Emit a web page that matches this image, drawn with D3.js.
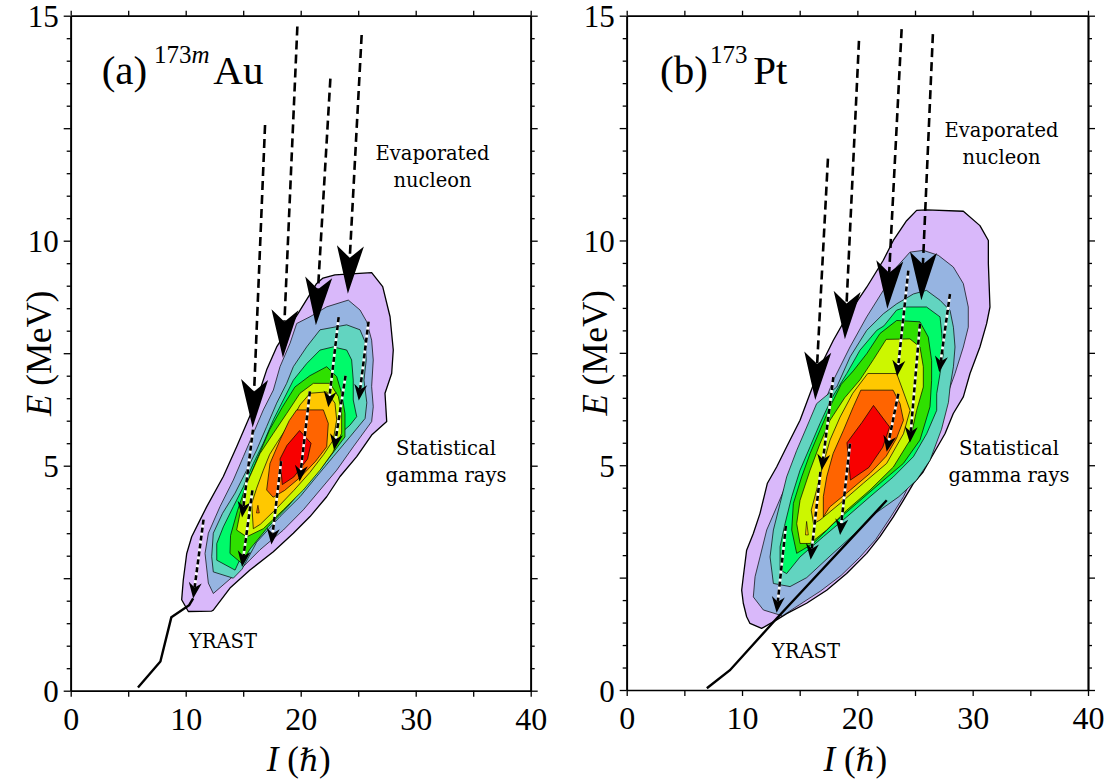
<!DOCTYPE html>
<html>
<head>
<meta charset="utf-8">
<script src="https://cdn.jsdelivr.net/npm/d3@7"></script>
<style>
body { margin: 0; background: #fff; }
svg text { font-family: "Liberation Serif", "DejaVu Serif", serif; fill: #000; }
svg text.note { font-family: "DejaVu Serif", serif; }
</style>
</head>
<body>
<svg id="chart" width="1107" height="780"></svg>
<script>
// ---- data: I (hbar) , E (MeV) ----

var xTickLabels = [0, 10, 20, 30, 40];
var xTickMarks = [0, 5, 10, 15, 20, 25, 30, 35, 40];
var yTickLabels = [0, 5, 10, 15];
var yMajorMarks = [0, 2.5, 5, 7.5, 10, 12.5, 15];
var yMinorMarks = [0.5, 1, 1.5, 2, 3, 3.5, 4, 4.5, 5.5, 6, 6.5, 7, 8, 8.5, 9, 9.5, 10.5, 11, 11.5, 12, 13, 13.5, 14, 14.5];

// contour levels, outer -> inner
var levelColors = ["#d9b8fa", "#96b4e1", "#62d4c0", "#00fa6a", "#2fe000", "#ccf700", "#ffc800", "#ff6400", "#f80000"];

// (a) 173mAu
var auPurple = [[21.39,9.05],[21.94,9.17],[22.98,9.24],[26.17,9.29],[27.13,8.98],[27.77,8.31],[28.05,7.57],[27.91,7.05],[27.33,6.61],[27.48,5.98],[26.17,5.68],[24.87,5.2],[23.42,4.76],[22.26,4.31],[20.81,3.87],[19.36,3.5],[17.62,3.09],[15.59,2.68],[13.85,2.28],[12.4,1.79],[12.26,1.77],[10.23,1.76],[9.65,2.02],[9.79,2.46],[10.09,3.05],[10.52,3.42],[11.24,3.79],[11.83,4.09],[13.27,4.76],[14.43,5.42],[15.3,5.94],[16.17,6.46],[17.04,7.13],[17.91,7.64],[19.79,8.39]];
var auBlue = [[22.26,8.53],[24.14,8.68],[25.16,8.46],[25.74,8.2],[26.17,7.79],[26.31,7.35],[26.17,6.76],[26.31,6.31],[26.17,5.98],[24.57,5.42],[23.13,4.9],[21.68,4.46],[20.23,4.02],[18.49,3.57],[16.46,3.13],[14.43,2.61],[12.4,2.16],[11.97,2.39],[11.68,3.05],[11.97,3.5],[12.98,4.09],[14.14,4.68],[15.01,5.2],[15.88,5.72],[16.75,6.24],[17.62,6.68],[18.2,7.2],[19.07,7.72],[19.65,8.16],[20.81,8.31]];
var auTeal = [[21.68,8.02],[24.0,8.13],[25.16,8.02],[25.6,7.75],[25.7,7.35],[25.5,6.9],[25.75,6.4],[25.6,6.05],[24.28,5.64],[22.83,5.2],[21.39,4.76],[19.94,4.31],[18.2,3.87],[16.17,3.3],[14.9,2.7],[14.14,2.5],[12.4,2.64],[12.26,2.98],[12.4,3.5],[13.2,3.94],[14.29,4.39],[15.3,4.9],[16.17,5.35],[17.04,5.87],[17.91,6.39],[18.78,6.83],[19.36,7.2],[20.52,7.64]];
var auAqua = [[21.68,7.57],[22.83,7.64],[24.0,7.57],[24.43,7.35],[24.57,6.9],[24.57,6.46],[24.87,6.09],[24.28,5.9],[23.13,5.64],[21.68,5.2],[20.23,4.83],[18.78,4.39],[17.04,3.94],[15.5,3.35],[14.29,2.68],[12.7,2.9],[12.7,3.27],[13.27,3.64],[14.14,4.09],[15.01,4.53],[15.88,5.05],[16.75,5.5],[17.62,6.02],[18.49,6.46],[19.36,6.9],[20.52,7.27]];
var auGreen = [[20.8,7.0],[22.26,7.2],[23.13,6.98],[23.56,6.61],[23.85,6.16],[23.85,5.64],[23.0,5.35],[21.8,4.95],[20.4,4.55],[18.9,4.1],[17.2,3.65],[15.6,3.15],[14.87,2.83],[13.85,3.05],[13.9,3.45],[14.5,4.0],[15.3,4.6],[16.3,5.2],[17.3,5.8],[18.4,6.3],[19.5,6.75]];
var auLime = [[21.1,6.83],[22.55,6.83],[23.27,6.54],[23.56,6.16],[23.56,5.72],[22.8,5.3],[21.68,4.9],[20.23,4.46],[18.49,4.02],[16.75,3.6],[15.3,3.42],[14.43,3.57],[14.72,3.94],[15.3,4.6],[16.46,5.27],[17.62,5.72],[18.78,6.16],[19.94,6.61]];
var auGold = [[20.81,6.61],[22.26,6.64],[22.98,6.39],[23.13,6.02],[22.83,5.57],[22.0,5.25],[20.8,4.85],[19.4,4.45],[17.9,4.05],[16.5,3.7],[15.88,3.6],[15.74,4.16],[16.17,4.5],[16.75,4.9],[17.3,5.25],[17.91,5.5],[19.07,5.95],[19.94,6.35]];
var auOrange = [[19.65,6.24],[21.97,6.24],[22.4,5.94],[22.26,5.42],[21.3,5.1],[20.0,4.75],[18.6,4.45],[17.6,4.3],[17.04,4.46],[17.33,5.05],[18.2,5.57],[19.0,6.0]];
var auRed = [[19.9,5.78],[20.9,5.5],[20.6,5.15],[19.4,4.75],[18.4,4.58],[18.2,5.15],[18.8,5.45]];
var auSpot = [[16.15,3.95],[16.4,3.95],[16.28,4.12]];

// arrows: [I start, E start, I tip, E tip]
var auBigArrows = [[16.9,12.57,15.82,5.85],[19.71,14.76,18.45,7.4],[22.58,13.6,21.32,8.12],[25.3,14.57,24.1,8.82]];
var auSmallArrows = [[23.3,8.3,22.4,6.3],[25.9,8.2,25.05,6.45],[23.9,7.0,22.9,5.35],[20.8,6.65,19.9,4.65],[15.85,5.8,14.9,3.85],[18.3,5.1,17.45,3.25],[15.8,4.45,14.9,2.75],[11.55,3.8,10.65,2.05]];
var auYrast = [[5.85,0.07],[7.8,0.65],[8.75,1.63],[10.3,1.9],[10.65,2.05]];

// (b) 173Pt
var ptPurple = [[25.14,10.67],[26.01,10.68],[29.19,10.65],[30.63,10.33],[31.36,10.0],[31.36,9.48],[31.5,8.52],[31.21,8.15],[30.63,7.63],[29.77,7.04],[29.19,6.52],[28.32,6.15],[27.6,5.7],[26.7,5.3],[25.7,4.85],[24.85,4.59],[23.99,4.22],[23.12,3.85],[21.96,3.41],[20.81,3.04],[19.07,2.59],[17.34,2.22],[15.6,1.93],[13.87,1.7],[13.0,1.56],[11.7,1.37],[10.69,1.48],[10.4,1.63],[10.11,1.93],[9.97,2.22],[10.11,2.52],[10.4,3.11],[10.98,3.48],[11.56,3.93],[12.2,4.6],[13.0,4.96],[13.87,5.41],[15.03,6.0],[15.89,6.59],[16.76,7.18],[17.92,7.78],[19.07,8.3],[20.81,8.96],[22.25,9.56],[23.12,10.0],[24.27,10.44]];
var ptBlue = [[24.56,9.74],[25.72,9.78],[27.02,9.67],[28.32,9.41],[29.19,9.04],[29.62,8.52],[29.62,8.07],[29.19,7.63],[28.47,7.04],[27.74,6.52],[26.88,6.0],[26.0,5.41],[25.0,4.85],[24.0,4.3],[22.9,3.85],[21.6,3.35],[20.2,2.95],[18.6,2.55],[16.8,2.2],[15.0,1.9],[13.5,1.65],[11.85,1.78],[10.98,2.07],[11.13,2.52],[11.56,2.96],[12.14,3.56],[13.0,4.07],[13.87,4.59],[14.45,5.04],[15.6,5.48],[16.76,6.15],[17.92,6.89],[19.36,7.63],[20.81,8.3],[22.25,8.89],[23.41,9.41]];
var ptTeal = [[23.41,8.59],[24.86,8.81],[26.0,8.89],[27.17,8.67],[28.04,8.44],[28.33,8.07],[28.47,7.63],[28.33,7.19],[28.04,6.74],[27.9,6.4],[27.3,5.8],[26.3,5.11],[25.14,4.67],[23.6,4.3],[21.68,3.95],[19.65,3.45],[17.63,2.98],[15.61,2.5],[14.16,2.3],[12.72,2.37],[12.43,2.96],[12.72,3.56],[13.3,4.15],[13.87,4.74],[14.74,5.33],[15.61,5.85],[16.47,6.37],[18.21,6.74],[19.37,7.41],[20.81,8.0],[22.26,8.37]];
var ptAqua = [[22.3,8.1],[23.4,8.45],[24.28,8.52],[26.0,8.52],[27.17,8.3],[27.32,7.93],[27.46,7.48],[27.17,7.04],[26.88,6.59],[26.88,6.22],[26.01,5.7],[24.86,5.19],[23.12,4.74],[21.1,4.3],[19.08,3.85],[17.05,3.41],[15.03,2.96],[13.87,2.59],[13.3,2.67],[13.3,3.19],[13.73,3.7],[14.31,4.3],[15.03,4.89],[15.9,5.41],[16.76,5.93],[17.8,6.5],[19.08,7.04],[20.23,7.56],[21.68,8.0]];
var ptGreen = [[21.96,7.93],[23.41,8.22],[25.43,8.19],[26.15,7.85],[26.44,7.33],[26.44,6.89],[26.3,6.3],[25.43,5.56],[23.99,5.04],[21.97,4.6],[19.94,4.15],[17.92,3.7],[16.18,3.26],[14.74,3.04],[14.31,3.56],[14.45,4.15],[15.17,4.74],[15.9,5.26],[16.76,5.78],[17.63,6.3],[18.6,6.8],[19.65,7.1],[20.81,7.48]];
var ptLime = [[22.5,7.8],[24.56,7.81],[25.43,7.63],[25.72,7.19],[25.72,6.74],[25.14,6.22],[24.57,5.56],[23.12,4.96],[21.1,4.45],[19.08,4.0],[17.34,3.56],[15.9,3.26],[15.03,3.26],[14.74,3.7],[15.03,4.22],[15.9,4.89],[16.76,5.48],[17.63,6.0],[18.9,6.5],[20.23,6.9],[21.39,7.35]];
var ptGold = [[20.9,7.04],[23.41,7.04],[23.84,6.74],[24.57,6.22],[24.0,5.7],[22.54,5.04],[20.52,4.6],[18.5,4.15],[16.76,3.78],[16.2,3.7],[16.0,4.0],[16.47,4.45],[17.05,5.04],[17.63,5.56],[18.5,6.07],[19.6,6.6]];
var ptOrange = [[20.3,6.67],[23.1,6.67],[23.7,6.37],[24.0,6.0],[23.4,5.6],[22.5,5.2],[21.1,4.82],[19.4,4.45],[17.6,4.07],[17.05,3.85],[17.05,4.3],[17.35,4.75],[17.9,5.26],[18.8,5.78],[19.65,6.3]];
var ptRed = [[21.4,6.33],[22.8,5.85],[22.2,5.4],[21.0,4.95],[19.4,4.67],[19.1,5.5],[20.4,5.95]];
var ptSpot = [[15.5,3.45],[15.75,3.45],[15.6,3.75]];

var ptBigArrows = [[17.45,11.82,16.35,6.45],[20.14,14.44,18.92,7.8],[23.84,14.7,22.6,8.48],[26.55,14.59,25.55,8.67]];
var ptSmallArrows = [[24.42,9.33,23.45,6.98],[25.43,8.15,24.55,5.5],[28.03,8.81,27.1,7.07],[23.55,6.59,22.54,5.3],[17.92,6.96,16.91,4.89],[16.8,4.85,15.95,2.9],[19.36,5.48,18.5,3.45],[13.8,3.65,13.0,1.72]];
var ptYrast = [[6.95,0.04],[8.95,0.44],[13.0,1.59],[22.55,4.22]];

var svg = d3.select("#chart");

function arrowHead(p0, p1, len, half, notch) {
    var dx = p1[0] - p0[0], dy = p1[1] - p0[1];
    var d = Math.sqrt(dx * dx + dy * dy);
    var ux = dx / d, uy = dy / d, nx = -uy, ny = ux;
    var bx = p1[0] - ux * len, by = p1[1] - uy * len;
    return {
        pts: [p1, [bx + nx * half, by + ny * half], [p1[0] - ux * (len - notch), p1[1] - uy * (len - notch)], [bx - nx * half, by - ny * half]],
        neck: [p1[0] - ux * (len - notch), p1[1] - uy * (len - notch)]
    };
}

function drawPanel(cfg) {
    var g = svg.append("g").attr("class", cfg.id);
    var x = d3.scaleLinear().domain([0, 40]).range([cfg.left, cfg.right]);
    var y = d3.scaleLinear().domain([0, 15]).range([cfg.bottom, cfg.top]);
    var line = d3.line().x(function(d) { return x(d[0]); }).y(function(d) { return y(d[1]); });

    // filled contours
    g.selectAll("path.lvl")
        .data(cfg.levels)
        .enter().append("path")
            .attr("class", "lvl")
            .attr("d", function(d) { return line(d) + "Z"; })
            .attr("fill", function(d, i) { return levelColors[i]; })
            .attr("stroke", "#000")
            .attr("stroke-width", function(d, i) { return i === 0 ? 1.3 : 0.7; })
            .attr("stroke-linejoin", "round");
    g.append("path")
        .attr("d", line(cfg.spot) + "Z")
        .attr("fill", cfg.spotColor)
        .attr("stroke", "#000")
        .attr("stroke-width", 0.6);

    // yrast line
    g.append("path")
        .attr("d", line(cfg.yrast))
        .attr("fill", "none")
        .attr("stroke", "#000")
        .attr("stroke-width", 2.4);

    // small (gamma) arrows: black dashes on white
    cfg.small.forEach(function(a) {
        var p0 = [x(a[0]), y(a[1])], p1 = [x(a[2]), y(a[3])];
        var h = arrowHead(p0, p1, 16, 6.5, 5);
        g.append("line")
            .attr("x1", p0[0]).attr("y1", p0[1]).attr("x2", h.neck[0]).attr("y2", h.neck[1])
            .attr("stroke", "#fff").attr("stroke-width", 2.6);
        g.append("line")
            .attr("x1", p0[0]).attr("y1", p0[1]).attr("x2", h.neck[0]).attr("y2", h.neck[1])
            .attr("stroke", "#000").attr("stroke-width", 2.6)
            .attr("stroke-dasharray", "5,3");
        g.append("path").attr("d", "M" + h.pts.join("L") + "Z").attr("fill", "#000");
    });

    // big (nucleon) arrows
    cfg.big.forEach(function(a) {
        var p0 = [x(a[0]), y(a[1])], p1 = [x(a[2]), y(a[3])];
        var h = arrowHead(p0, p1, 48, 13.5, 12);
        g.append("line")
            .attr("x1", p0[0]).attr("y1", p0[1]).attr("x2", h.neck[0]).attr("y2", h.neck[1])
            .attr("stroke", "#000").attr("stroke-width", 2.6)
            .attr("stroke-dasharray", "9,5");
        g.append("path").attr("d", "M" + h.pts.join("L") + "Z").attr("fill", "#000");
    });

    // axes
    var fmt = function(d) { return xTickLabels.indexOf(d) >= 0 ? d : ""; };
    var ax = g.append("g").attr("transform", "translate(0," + cfg.bottom + ")")
        .call(d3.axisBottom(x).tickValues(xTickMarks).tickSize(6).tickSizeOuter(0).tickFormat(fmt));
    g.append("g").attr("transform", "translate(0," + cfg.top + ")")
        .call(d3.axisTop(x).tickValues(xTickMarks).tickSize(5).tickSizeOuter(0).tickFormat(""));
    var ay = g.append("g").attr("transform", "translate(" + cfg.left + ",0)")
        .call(d3.axisLeft(y).tickValues(yMajorMarks).tickSize(7).tickSizeOuter(0)
            .tickFormat(function(d) { return yTickLabels.indexOf(d) >= 0 ? d : ""; }));
    g.append("g").attr("transform", "translate(" + cfg.left + ",0)")
        .call(d3.axisLeft(y).tickValues(yMinorMarks).tickSize(4).tickSizeOuter(0).tickFormat(""));
    g.append("g").attr("transform", "translate(" + cfg.right + ",0)")
        .call(d3.axisRight(y).tickValues(yMajorMarks).tickSize(7).tickSizeOuter(0).tickFormat(""));
    g.append("g").attr("transform", "translate(" + cfg.right + ",0)")
        .call(d3.axisRight(y).tickValues(yMinorMarks).tickSize(4).tickSizeOuter(0).tickFormat(""));

    g.selectAll(".domain").attr("stroke-width", 1.7);
    g.selectAll(".tick line").attr("stroke-width", 1.3);
    ax.selectAll("text").attr("y", 39).attr("dy", 0)
        .attr("font-family", "Liberation Serif").attr("font-size", 32);
    ay.selectAll("text").attr("x", -12).attr("dy", "0.36em")
        .attr("font-family", "Liberation Serif").attr("font-size", 31);

    // axis titles
    var yt = g.append("text")
        .attr("transform", "translate(" + (cfg.left - 20) + "," + (cfg.top + cfg.bottom) / 2 + ") rotate(-90)")
        .attr("text-anchor", "middle").attr("font-size", 35);
    yt.append("tspan").attr("font-style", "italic").text("E");
    yt.append("tspan").text(" (MeV)");
    var xt = g.append("text")
        .attr("x", (cfg.left + cfg.right) / 2 - 2).attr("y", 771)
        .attr("text-anchor", "middle").attr("font-size", 35);
    xt.append("tspan").attr("font-style", "italic").text("I");
    xt.append("tspan").text(" (");
    xt.append("tspan").attr("font-style", "italic").attr("font-family", "DejaVu Serif").attr("font-size", 31).text("\u210F");
    xt.append("tspan").text(")");

    // panel tag
    g.append("text").attr("x", cfg.tagX[0]).attr("y", 84).attr("font-size", 41).text(cfg.tag);
    var sup = g.append("text").attr("x", cfg.tagX[1]).attr("y", 63).attr("font-size", 25);
    sup.append("tspan").text("173");
    if (cfg.iso) sup.append("tspan").attr("font-style", "italic").text(cfg.iso);
    g.append("text").attr("x", cfg.tagX[2]).attr("y", 84).attr("font-size", 41).text(cfg.elem);

    // notes
    cfg.notes.forEach(function(n) {
        g.append("text").attr("class", "note")
            .attr("x", n[0]).attr("y", n[1])
            .attr("text-anchor", "middle").attr("font-size", 19.5)
            .text(n[2]);
    });
}

drawPanel({
    id: "au", left: 70.7, right: 530.7, top: 15.7, bottom: 690.7,
    levels: [auPurple, auBlue, auTeal, auAqua, auGreen, auLime, auGold, auOrange, auRed],
    spot: auSpot, spotColor: "#ff6400",
    yrast: auYrast, big: auBigArrows, small: auSmallArrows,
    tag: "(a)", iso: "m", elem: "Au", tagX: [101.7, 154, 213.3],
    notes: [[432.5, 160, "Evaporated"], [432.5, 187, "nucleon"], [446, 455, "Statistical"], [446, 481.7, "gamma rays"], [223, 647.7, "YRAST"]]
});

drawPanel({
    id: "pt", left: 626.7, right: 1088, top: 15.7, bottom: 690,
    levels: [ptPurple, ptBlue, ptTeal, ptAqua, ptGreen, ptLime, ptGold, ptOrange, ptRed],
    spot: ptSpot, spotColor: "#ffc800",
    yrast: ptYrast, big: ptBigArrows, small: ptSmallArrows,
    tag: "(b)", iso: "", elem: "Pt", tagX: [660, 710, 753.3],
    notes: [[1001.5, 137, "Evaporated"], [1001.5, 163.5, "nucleon"], [1009, 455, "Statistical"], [1009, 481.7, "gamma rays"], [806, 658.3, "YRAST"]]
});
</script>
</body>
</html>
